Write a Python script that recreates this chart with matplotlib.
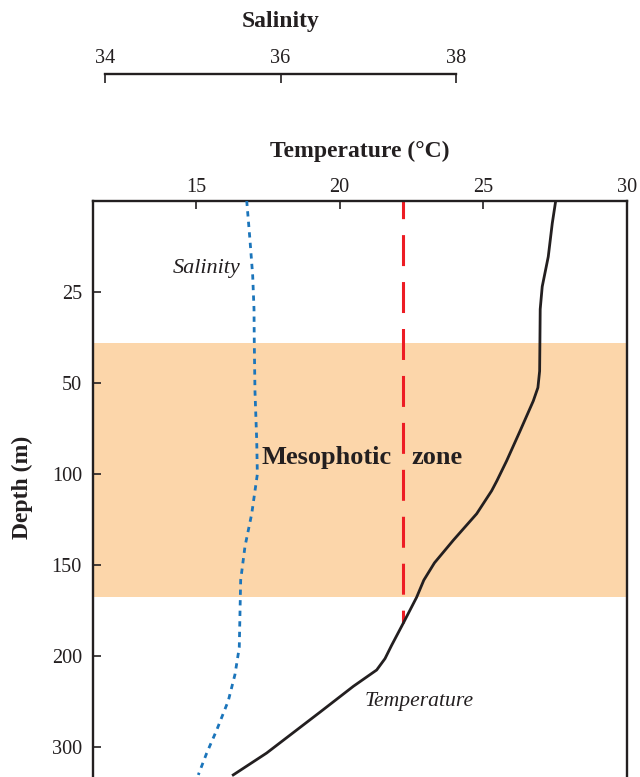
import numpy as np
import matplotlib
matplotlib.use("Agg")
import matplotlib.pyplot as plt

plt.rcParams['font.family'] = ['Liberation Serif', 'DejaVu Serif']
plt.rcParams['lines.scale_dashes'] = False

# perfil de temperatura (°C) vs profundidade (m)
temp_depth = [0, 6.2, 15.4, 23.6, 29.8, 38.8, 46.8, 52.7, 60, 76.5, 93, 104, 109.4,
              122, 136.5, 149, 158.5, 167.9, 182, 194.3, 203.2, 215.7, 233.6, 262, 307, 331]
temp = [27.52, 27.40, 27.26, 27.05, 26.98, 26.97, 26.96, 26.90, 26.74, 26.28, 25.81, 25.47, 25.29,
        24.77, 23.96, 23.30, 22.93, 22.68, 22.22, 21.81, 21.58, 21.29, 20.48, 19.32, 17.46, 16.30]

# perfil de salinidade
sal_depth = [0, 10.8, 20.6, 29.8, 38.8, 54.6, 82, 100.3, 122, 140, 158.5, 177, 195.5,
             220.7, 249.5, 281.7, 307, 331]
sal = [35.615, 35.652, 35.683, 35.698, 35.701, 35.709, 35.729, 35.736, 35.672, 35.595, 35.546,
       35.538, 35.530, 35.481, 35.405, 35.273, 35.159, 35.063]

# zona mesofótica e linha de referência
zone_top, zone_bottom = 39, 168
ref_temp = 22.2
ref_depth = 182

depth_ticks = [25, 50, 100, 150, 200, 300]
temp_ticks = [15, 20, 25, 30]
sal_ticks = [34, 36, 38]

# escala de profundidade: marcas igualmente espaçadas
knots = np.array([0, 25, 50, 100, 150, 200, 300, 400])
pos = np.arange(len(knots), dtype=float)


def fwd(d):
    return np.interp(d, knots, pos)


def inv(p):
    return np.interp(p, pos, knots)


ink = '#231f20'
W, H = 640, 777
fig = plt.figure(figsize=(W / 100, H / 100), dpi=100)

top_px = 200.7
h_px = 6.6 * 91
ax = fig.add_axes([93 / W, (H - top_px - h_px) / H, 534 / W, h_px / H])
ax.set_yscale('function', functions=(fwd, inv))
ax.set_ylim(inv(6.6), 0)
ax.set_xlim(11.42, 30)

ax.axhspan(zone_top, zone_bottom, color='#fcd6aa', lw=0, zorder=0)
ax.plot(temp, temp_depth, color=ink, lw=2.0, zorder=3, solid_joinstyle='round')
ax.plot([ref_temp, ref_temp], [0, ref_depth], color='#ed1c24', lw=2.2,
        linestyle=(9.6, (22.3, 11.5)), zorder=2)

ax2 = ax.twiny()
ax2.set_xlim(33.863, 39.949)
ax2.plot(sal, sal_depth, color='#1b75bb', lw=2.0, linestyle=(0, (3.8, 3.8)), zorder=3)
ax2.set_xticks([])
for s in ax2.spines.values():
    s.set_visible(False)

ax.xaxis.tick_top()
ax.xaxis.set_label_position('top')
ax.set_xticks(temp_ticks)
ax.set_yticks(depth_ticks)
ax.set_yticklabels([str(d) for d in depth_ticks])
ax.yaxis.set_minor_locator(matplotlib.ticker.NullLocator())
ax.tick_params(direction='in', length=6, width=1.2, color=ink, labelsize=14.6,
               labelcolor=ink)
ax.tick_params(axis='y', pad=8)
ax.tick_params(axis='x', pad=3)
ax.spines['bottom'].set_visible(False)
for k in ['top', 'left', 'right']:
    ax.spines[k].set_linewidth(1.7)
    ax.spines[k].set_color(ink)
ax.set_xlabel('Temperature (°C)', fontsize=17, fontweight='bold', color=ink, labelpad=15)

ax.text(21.82, 94.7, 'Mesophotic', fontsize=19, fontweight='bold', color=ink,
        ha='right', va='baseline', zorder=4)
ax.text(22.5, 94.7, 'zone', fontsize=19, fontweight='bold', color=ink,
        ha='left', va='baseline', zorder=4)
ax.text(14.2, 19.8, 'Salinity', fontsize=16, style='italic', color=ink,
        ha='left', va='baseline')
ax.text(20.88, 255, 'Temperature', fontsize=15.6, style='italic', color=ink,
        ha='left', va='baseline')

fig.text(22.5 / W, 1 - 487 / H, 'Depth (m)', rotation=90, fontsize=17,
         fontweight='bold', color=ink, ha='center', va='center')

# eixo de salinidade separado no topo
axs = fig.add_axes([105 / W, 1 - 74 / H - 0.01, 351 / W, 0.01])
axs.set_xlim(34, 38)
axs.set_yticks([])
axs.patch.set_visible(False)
for k in ['bottom', 'left', 'right']:
    axs.spines[k].set_visible(False)
axs.spines['top'].set_linewidth(1.7)
axs.spines['top'].set_color(ink)
axs.xaxis.tick_top()
axs.xaxis.set_label_position('top')
axs.set_xticks(sal_ticks)
axs.tick_params(direction='in', length=6.5, width=1.2, color=ink, labelsize=14.6,
                labelcolor=ink, pad=4)
axs.set_xlabel('Salinity', fontsize=17, fontweight='bold', color=ink, labelpad=16)

fig.savefig('out.png', dpi=100)
